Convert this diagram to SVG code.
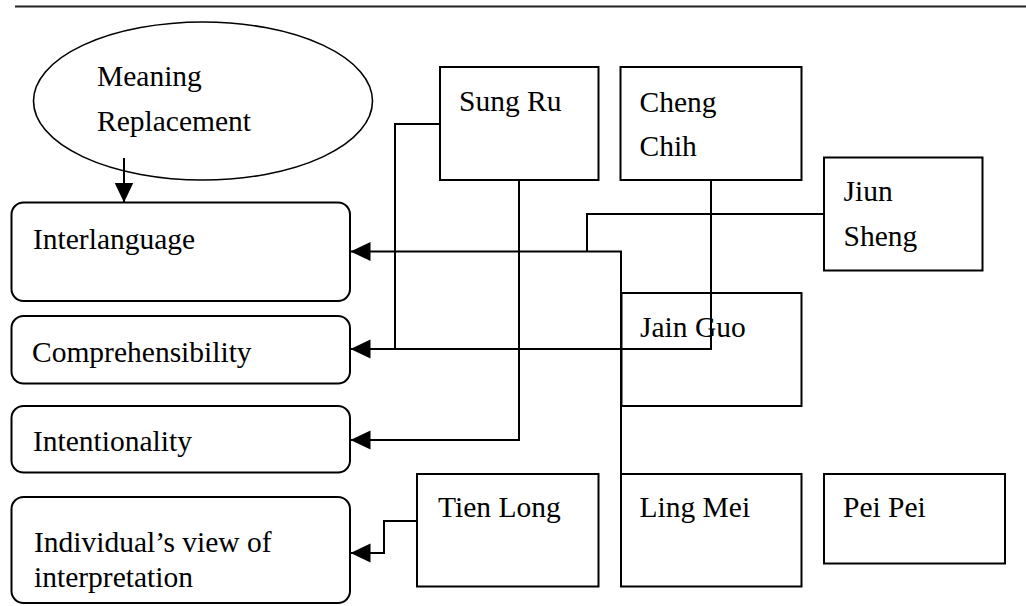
<svg xmlns="http://www.w3.org/2000/svg" width="1026" height="606" viewBox="0 0 1026 606">
<style>
.b{fill:none;stroke:#000;stroke-width:2}
.c{fill:none;stroke:#000;stroke-width:2}
.t{font-family:"Liberation Serif","Times New Roman",serif;font-size:29.5px;fill:#000}
</style>
<defs>
<marker id="ah" markerUnits="userSpaceOnUse" markerWidth="20" markerHeight="20" viewBox="0 0 19 18" refX="19" refY="9" orient="auto">
<path d="M0,0 L19,9 L0,18 z" fill="#000"/>
</marker>
</defs>
<rect width="1026" height="606" fill="#fff"/>
<line x1="15" y1="6.5" x2="1026" y2="6.5" stroke="#222" stroke-width="2"/>
<g id="meaning-replacement">
<ellipse cx="203" cy="101" rx="169.5" ry="79" fill="none" stroke="#000" stroke-width="1.6"/>
<text class="t" x="97" y="86">Meaning</text>
<text class="t" x="97" y="131">Replacement</text>
</g>
<g id="interlanguage">
<rect class="b" x="11.5" y="202.5" width="338.5" height="98.5" rx="12"/>
<text class="t" x="33" y="249">Interlanguage</text>
</g>
<g id="comprehensibility">
<rect class="b" x="11.5" y="316" width="338.5" height="67.5" rx="12"/>
<text class="t" x="32" y="362">Comprehensibility</text>
</g>
<g id="intentionality">
<rect class="b" x="11.5" y="406" width="338.5" height="66.5" rx="12"/>
<text class="t" x="33" y="451">Intentionality</text>
</g>
<g id="individual">
<rect class="b" x="11.5" y="497" width="338.5" height="106" rx="12"/>
<text class="t" x="34" y="552">Individual’s view of</text>
<text class="t" x="34" y="587">interpretation</text>
</g>
<g id="sung-ru">
<rect class="b" x="440" y="67" width="158.5" height="113"/>
<text class="t" x="459" y="111">Sung Ru</text>
</g>
<g id="cheng-chih">
<rect class="b" x="620.5" y="67" width="181" height="113"/>
<text class="t" x="639.5" y="112">Cheng</text>
<text class="t" x="639.5" y="156">Chih</text>
</g>
<g id="jiun-sheng">
<rect class="b" x="824" y="157.5" width="158.5" height="113"/>
<text class="t" x="843.5" y="201">Jiun</text>
<text class="t" x="843.5" y="246">Sheng</text>
</g>
<g id="jain-guo">
<rect class="b" x="621.5" y="293" width="180" height="113"/>
<text class="t" x="640" y="337">Jain Guo</text>
</g>
<g id="tien-long">
<rect class="b" x="417" y="474" width="181.5" height="112.5"/>
<text class="t" x="438" y="517">Tien Long</text>
</g>
<g id="ling-mei">
<rect class="b" x="621" y="474" width="180.5" height="112.5"/>
<text class="t" x="639.5" y="517">Ling Mei</text>
</g>
<g id="pei-pei">
<rect class="b" x="824" y="474" width="181" height="89.5"/>
<text class="t" x="843" y="517">Pei Pei</text>
</g>
<g id="connectors">
<path class="c" d="M124,158 V202.5" marker-end="url(#ah)"/>
<path class="c" d="M621,474 V251.5 H350.5" marker-end="url(#ah)"/>
<path class="c" d="M824,214 H587 V251.5"/>
<path class="c" d="M440,124 H395 V349 H350.5" marker-end="url(#ah)"/>
<path class="c" d="M711,180 V349 H395"/>
<path class="c" d="M519,180 V440 H350.5" marker-end="url(#ah)"/>
<path class="c" d="M417,521 H384 V553 H350.5" marker-end="url(#ah)"/>
</g>
</svg>
